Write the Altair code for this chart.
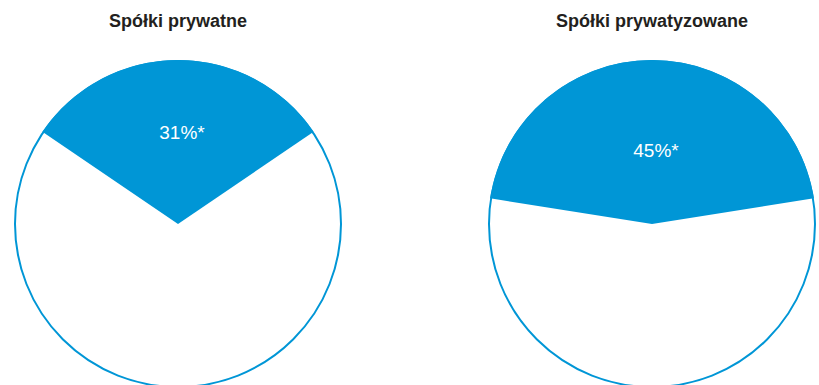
import altair as alt
import pandas as pd
import math

groups = ["Spółki prywatne", "Spółki prywatyzowane"]
shares = [31, 45]
labels = ["31%*", "45%*"]

df = pd.DataFrame({"group": groups, "share": shares, "label": labels})

BLUE = "#0096d6"
base = alt.Chart(df)

layers = []
centers = [178, 652]
label_y = [139, 157]
for g, cx, ly in zip(groups, centers, label_y):
    b = base.transform_filter(alt.datum.group == g)
    outline = b.mark_arc(
        radius=163, fill="white", stroke=BLUE, strokeWidth=2,
        theta=0, theta2=2 * math.pi
    ).encode(x=alt.value(cx), y=alt.value(224))
    slice_ = b.transform_calculate(
        t1="-datum.share/100*PI",
        t2="datum.share/100*PI",
    ).mark_arc(radius=164, fill=BLUE, strokeWidth=0).encode(
        theta=alt.Theta("t1:Q", scale=None),
        theta2=alt.Theta2("t2:Q"),
        x=alt.value(cx), y=alt.value(224),
    )
    lab = b.mark_text(
        font="Liberation Sans", fontSize=19, color="white", baseline="alphabetic"
    ).encode(text="label:N", x=alt.value(cx + 4), y=alt.value(ly))
    title = b.mark_text(
        font="Liberation Sans", fontSize=18, fontWeight="bold", color="#231f20",
        baseline="alphabetic"
    ).encode(text="group:N", x=alt.value(cx), y=alt.value(27))
    layers += [outline, slice_, lab, title]

chart = alt.layer(*layers).properties(
    width=819, height=385, padding=0, autosize=alt.AutoSizeParams(type="none")
).configure_view(strokeOpacity=0, strokeWidth=0)

chart.save("out.html", embed_options={"renderer": "svg", "actions": False})
